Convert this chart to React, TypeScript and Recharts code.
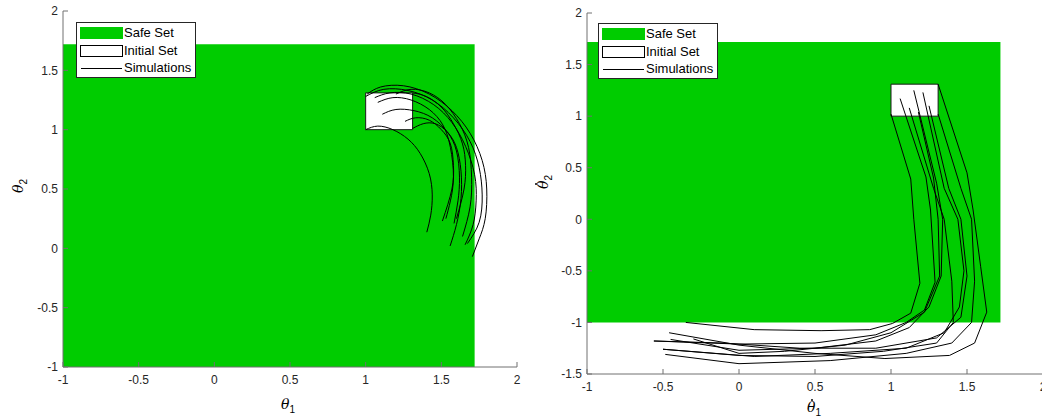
import { ComposedChart, XAxis, YAxis, Line, ReferenceArea } from "recharts"

const X_TICKS = [-1, -0.5, 0, 0.5, 1, 1.5, 2]
const Y_TICKS_ANGLE = [-1, -0.5, 0, 0.5, 1, 1.5, 2]
const Y_TICKS_RATE = [-1.5, -1, -0.5, 0, 0.5, 1, 1.5, 2]

const SAFE_X = [-1, 1.72]
const SAFE_Y = [-1, 1.72]
const INIT_X = [1, 1.31]
const INIT_Y = [1, 1.31]

// theta1 vs theta2
const angleSims: number[][][] = [
  [[1.01, 1.3], [1.1, 1.36], [1.25, 1.37], [1.42, 1.3], [1.57, 1.16], [1.69, 0.97], [1.77, 0.74], [1.8, 0.5], [1.79, 0.25], [1.75, 0.08], [1.705, -0.07]],
  [[1.0, 1.28], [1.12, 1.34], [1.28, 1.33], [1.44, 1.25], [1.58, 1.1], [1.69, 0.9], [1.75, 0.68], [1.77, 0.45], [1.75, 0.22], [1.672, 0.04]],
  [[1.06, 1.27], [1.16, 1.31], [1.3, 1.3], [1.45, 1.21], [1.57, 1.06], [1.66, 0.86], [1.72, 0.62], [1.73, 0.4], [1.71, 0.2], [1.657, 0.03]],
  [[1.31, 1.31], [1.4, 1.28], [1.5, 1.19], [1.58, 1.05], [1.64, 0.88], [1.66, 0.7], [1.65, 0.5], [1.6, 0.25]],
  [[1.11, 1.13], [1.2, 1.17], [1.32, 1.16], [1.44, 1.1], [1.54, 0.98], [1.6, 0.82], [1.62, 0.6], [1.61, 0.4], [1.584, 0.21]],
  [[1.26, 1.07], [1.33, 1.1], [1.42, 1.08], [1.5, 1.0], [1.56, 0.88], [1.58, 0.7], [1.57, 0.5], [1.507, 0.23]],
  [[1.0, 1.0], [1.08, 1.03], [1.18, 1.0], [1.28, 0.92], [1.36, 0.8], [1.42, 0.63], [1.44, 0.45], [1.43, 0.28], [1.404, 0.136]],
  [[1.31, 1.01], [1.38, 1.05], [1.46, 1.05], [1.54, 0.98], [1.6, 0.85], [1.63, 0.65], [1.63, 0.42], [1.6, 0.2], [1.558, 0.02]],
  [[1.2, 1.3], [1.3, 1.34], [1.42, 1.31], [1.53, 1.21], [1.62, 1.05], [1.68, 0.85], [1.7, 0.6], [1.69, 0.35], [1.64, 0.1]],
  [[1.08, 1.23], [1.18, 1.27], [1.3, 1.25], [1.42, 1.17], [1.51, 1.04], [1.56, 0.85], [1.58, 0.6], [1.56, 0.4], [1.53, 0.25]],
]

// theta1 dot vs theta2 dot
const rateSims: number[][][] = [
  [[1.0, 1.02], [1.13, 0.39], [1.15, 0.0], [1.19, -0.62], [1.13, -0.91], [1.01, -1.01], [0.86, -1.07], [0.54, -1.08], [0.1, -1.07], [-0.35, -1.0]],
  [[1.06, 1.17], [1.23, 0.41], [1.26, 0.09], [1.29, -0.61], [1.22, -0.88], [1.1, -1.0], [0.9, -1.12], [0.5, -1.2], [0.0, -1.21], [-0.56, -1.18]],
  [[1.31, 1.31], [1.5, 0.45], [1.54, 0.09], [1.59, -0.46], [1.63, -0.9], [1.55, -1.2], [1.385, -1.32], [0.96, -1.35], [0.5, -1.3], [0.0, -1.22], [-0.46, -1.1]],
  [[1.15, 1.25], [1.3, 0.35], [1.34, 0.0], [1.33, -0.55], [1.25, -0.85], [1.12, -1.05], [0.9, -1.18], [0.5, -1.25], [0.0, -1.27], [-0.45, -1.165]],
  [[1.21, 1.23], [1.35, 0.3], [1.44, 0.0], [1.48, -0.5], [1.45, -0.85], [1.35, -1.1], [1.1, -1.25], [0.6, -1.3], [0.1, -1.33], [-0.5, -1.26]],
  [[1.18, 1.04], [1.28, 0.4], [1.31, 0.0], [1.32, -0.55], [1.22, -0.9], [1.0, -1.1], [0.7, -1.22], [0.3, -1.28], [0.0, -1.3], [-0.3, -1.16]],
  [[1.31, 1.02], [1.46, 0.3], [1.53, 0.0], [1.55, -0.6], [1.53, -1.0], [1.4, -1.2], [1.1, -1.3], [0.6, -1.37], [0.0, -1.4], [-0.485, -1.31]],
  [[1.12, 1.08], [1.28, 0.3], [1.35, 0.0], [1.4, -0.6], [1.41, -1.0], [1.3, -1.2], [0.95, -1.28], [0.5, -1.33], [0.0, -1.32], [-0.5, -1.26]],
  [[1.25, 1.1], [1.38, 0.3], [1.46, 0.0], [1.5, -0.55], [1.46, -0.95], [1.3, -1.15], [0.9, -1.25], [0.4, -1.25], [-0.1, -1.2], [-0.56, -1.18]],
]

const GREEN = "#00cc00"
const AXIS = "#707070"
const TXT = "#262626"
const SANS = "'Liberation Sans', Arial, Helvetica, sans-serif"

const toPts = (s: number[][]) => s.map(([x, y]) => ({ x, y }))

function Panel({ width, margin, yDomain, yTicks, sims, curve }: {
  width: number
  margin: { top: number; right: number; bottom: number; left: number }
  yDomain: [number, number]
  yTicks: number[]
  sims: number[][][]
  curve: "natural" | "linear"
}) {
  const axisCommon = {
    type: "number" as const,
    allowDataOverflow: true,
    axisLine: { stroke: AXIS },
    tickLine: { stroke: AXIS },
    tickSize: -5,
    interval: 0 as const,
  }
  return (
    <ComposedChart width={width} height={417} margin={margin}>
      <XAxis xAxisId="b" dataKey="x" orientation="bottom" domain={[-1, 2]} ticks={X_TICKS} height={30} tickMargin={13}
        tick={{ fontSize: 12, fill: TXT }} {...axisCommon} />
      <XAxis xAxisId="t" dataKey="x" orientation="top" domain={[-1, 2]} ticks={X_TICKS} height={0} tick={false} {...axisCommon} />
      <YAxis yAxisId="l" dataKey="y" orientation="left" domain={yDomain} ticks={yTicks} width={40} tickMargin={10}
        tick={{ fontSize: 12, fill: TXT }} {...axisCommon} />
      <YAxis yAxisId="r" dataKey="y" orientation="right" domain={yDomain} ticks={yTicks} width={0} tick={false} {...axisCommon} />
      <ReferenceArea xAxisId="b" yAxisId="l" x1={SAFE_X[0]} x2={SAFE_X[1]} y1={SAFE_Y[0]} y2={SAFE_Y[1]}
        fill={GREEN} fillOpacity={1} stroke="none" />
      <ReferenceArea xAxisId="b" yAxisId="l" x1={INIT_X[0]} x2={INIT_X[1]} y1={INIT_Y[0]} y2={INIT_Y[1]}
        fill="#ffffff" fillOpacity={1} stroke="#1a1a1a" strokeWidth={1} />
      {sims.map((s, i) => (
        <Line key={i} xAxisId="b" yAxisId="l" data={toPts(s)} dataKey="y" type={curve}
          stroke="#000" strokeWidth={1} dot={false} activeDot={false} isAnimationActive={false} />
      ))}
    </ComposedChart>
  )
}

function SetLegend({ left, top }: { left: number; top: number }) {
  const row = (y: number) => ({ position: "absolute" as const, left: 0, top: y, width: "100%", height: 15 })
  const label = { position: "absolute" as const, left: 47, top: -1, fontSize: 13, color: "#000", lineHeight: "15px" }
  return (
    <div style={{ position: "absolute", left, top, width: 118, height: 54, border: "1px solid #262626", background: "#fff", fontFamily: SANS }}>
      <div style={row(3)}>
        <div style={{ position: "absolute", left: 3, top: 1, width: 43, height: 12, background: GREEN }} />
        <span style={label}>Safe Set</span>
      </div>
      <div style={row(21)}>
        <div style={{ position: "absolute", left: 3, top: 1, width: 41, height: 10, border: "1px solid #000", background: "#fff" }} />
        <span style={label}>Initial Set</span>
      </div>
      <div style={row(38)}>
        <div style={{ position: "absolute", left: 4, top: 7, width: 41, height: 1, background: "#000" }} />
        <span style={label}>Simulations</span>
      </div>
    </div>
  )
}

function AxisTitle({ x, y, dot, sub, rotate }: { x: number; y: number; dot?: boolean; sub: string; rotate?: boolean }) {
  return (
    <div style={{
      position: "absolute", left: x, top: y, whiteSpace: "nowrap",
      transform: `translate(-50%, -50%)${rotate ? " rotate(-90deg)" : ""}`,
      color: "#000",
    }}>
      <span style={{ position: "relative", fontFamily: "'DejaVu Serif', serif", fontStyle: "italic", fontSize: 14 }}>
        {"\u03B8"}
        {dot && <span style={{ position: "absolute", left: 4, top: 0, width: 2, height: 2, borderRadius: 1, background: "#000" }} />}
      </span>
      <span style={{ fontFamily: SANS, fontSize: 10, position: "relative", top: 4 }}>{sub}</span>
    </div>
  )
}

export default function App() {
  return (
    <div style={{ position: "absolute", left: 0, top: 0, width: 1042, height: 417, background: "#fff", fontFamily: SANS, overflow: "hidden" }}>
      <div style={{ position: "absolute", left: 0, top: 0 }}>
        <Panel width={530} margin={{ top: 11, right: 13, bottom: 20, left: 23 }} yDomain={[-1, 2]}
          yTicks={Y_TICKS_ANGLE} sims={angleSims} curve="natural" />
      </div>
      <div style={{ position: "absolute", left: 524, top: 0 }}>
        <Panel width={520} margin={{ top: 13, right: 1, bottom: 13, left: 23 }} yDomain={[-1.5, 2]}
          yTicks={Y_TICKS_RATE} sims={rateSims} curve="linear" />
      </div>
      <SetLegend left={76} top={22} />
      <SetLegend left={598} top={23} />
      <AxisTitle x={288} y={404} sub="1" />
      <AxisTitle x={18} y={186} sub="2" rotate />
      <AxisTitle x={814} y={407} sub="1" dot />
      <AxisTitle x={543} y={182} sub="2" rotate dot />
    </div>
  )
}
